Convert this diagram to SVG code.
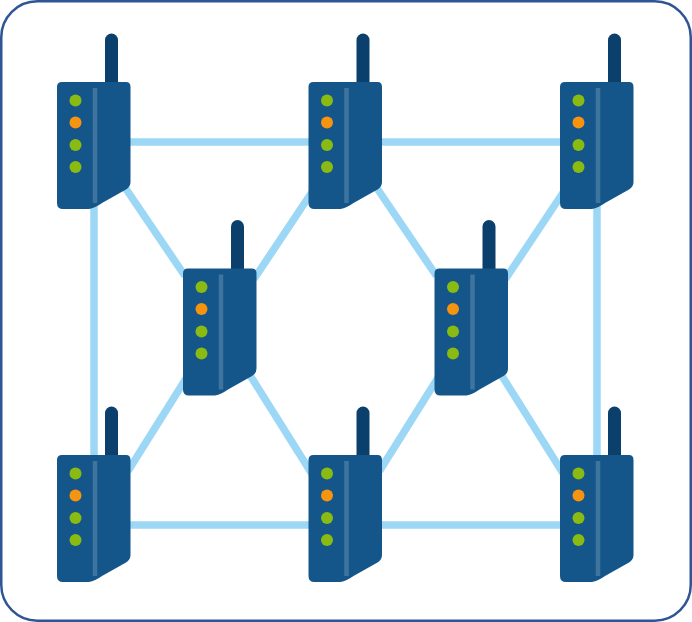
<svg xmlns="http://www.w3.org/2000/svg" width="692" height="622" viewBox="0 0 692 622">
<style>
.frame{fill:#fff;stroke:#2f5597;stroke-width:2.5}
.link{stroke:#9cd7f5;stroke-width:7.500;fill:none}
.body{fill:#14558a}
.ant{fill:none;stroke:#0b406c;stroke-width:13;stroke-linecap:round}
.stripe{stroke:#3f749f;stroke-width:4.500;stroke-linecap:butt}
.g{fill:#8abb12}
.o{fill:#f7940f}
</style>
<defs>
<g id="router">
<path class="ant" d="M111.500 40V86"/>
<path class="body" d="M62 82H126Q130.500 82 130.500 87V182Q130.500 187 126 189.500L102 203Q95 208 89 209H63Q57 209 57 203V87Q57 82 62 82Z"/>
<path class="stripe" d="M95 88V203"/>
<circle class="g" cx="75.500" cy="100.500" r="6"/>
<circle class="o" cx="75.500" cy="122.500" r="6"/>
<circle class="g" cx="75.500" cy="145" r="6"/>
<circle class="g" cx="75.500" cy="167" r="6"/>
</g>
</defs>
<rect class="frame" x="1.250" y="1.250" width="689.500" height="619.500" rx="36"/>
<g id="connectors">
<path class="link" d="M128 142H562"/>
<path class="link" d="M128 525H562"/>
<path class="link" d="M94 205V458"/>
<path class="link" d="M597 205V458"/>
<path class="link" d="M124 186L185 276"/>
<path class="link" d="M312 192L254 279"/>
<path class="link" d="M375.500 186L436.500 276"/>
<path class="link" d="M563.500 192L505.500 279"/>
<path class="link" d="M187 377L128 471"/>
<path class="link" d="M248 372L312 474"/>
<path class="link" d="M438.500 377L379.500 471"/>
<path class="link" d="M499.500 372L563.500 474"/>
</g>
<g id="node-top-left"><use href="#router"/></g>
<g id="node-top-center"><use href="#router" x="251.500"/></g>
<g id="node-top-right"><use href="#router" x="503"/></g>
<g id="node-mid-left"><use href="#router" x="126" y="186.500"/></g>
<g id="node-mid-right"><use href="#router" x="377.500" y="186.500"/></g>
<g id="node-bottom-left"><use href="#router" y="373"/></g>
<g id="node-bottom-center"><use href="#router" x="251.500" y="373"/></g>
<g id="node-bottom-right"><use href="#router" x="503" y="373"/></g>
</svg>
